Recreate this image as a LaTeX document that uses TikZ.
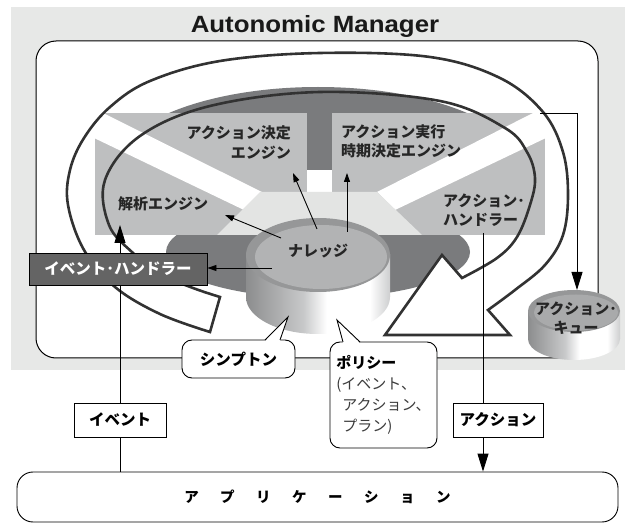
\documentclass[tikz,border=0pt]{standalone}
\usepackage{graphicx}
\usepackage{fontspec}
\setmainfont{Liberation Sans}
\newfontfamily\jp{Noto Sans CJK JP}
\usetikzlibrary{arrows.meta,calc}

\definecolor{bggray}{RGB}{231,232,231}
\definecolor{panelgray}{RGB}{190,191,192}
\definecolor{darkgray}{RGB}{122,123,125}
\definecolor{lightpanel}{RGB}{227,228,227}
\definecolor{ehgray}{RGB}{100,100,100}
\definecolor{ribbon}{RGB}{50,50,50}
\definecolor{cylrim}{RGB}{150,151,152}
\definecolor{cyltop}{RGB}{178,179,180}
\definecolor{cyldark}{RGB}{140,141,142}
\definecolor{cylmid}{RGB}{200,201,202}
\definecolor{cylend}{RGB}{205,206,207}
\definecolor{softtext}{RGB}{60,60,60}

% side wall of a drum: dark on the left, bright just right of centre
\pgfdeclarehorizontalshading{cylbody}{100bp}{color(0bp)=(cyldark); color(25bp)=(cyldark);
  color(45bp)=(cylmid); color(53bp)=(white); color(68bp)=(white);
  color(75bp)=(cylend); color(100bp)=(cylend)}

\begin{document}
\begin{tikzpicture}[x=1pt,y=-1pt,
  conn/.style={line width=0.9pt, draw=black},
  smallarrow/.style={conn, -{Triangle[length=9pt,width=6pt]}},
  bigarrow/.style={conn, -{Triangle[length=18pt,width=11pt]}},
  ribbonline/.style={line width=2.6pt, draw=ribbon, line join=miter},
  paneltext/.style={font=\jp\bfseries\fontsize{15}{19.5}\selectfont, inner sep=0pt, text=black!85},
  labelbox/.style={draw, fill=white, line width=0.9pt, inner sep=0pt,
    font=\jp\bfseries\fontsize{15.5}{18}\selectfont, minimum height=34pt},
  bubble/.style={draw, fill=white, line width=0.9pt, rounded corners=10pt, inner sep=0pt}]

\useasboundingbox (0,0) rectangle (625,524);

% grey panel of the manager
\fill[bggray] (11,7) rectangle (625,370);
\node[anchor=base, font=\bfseries\fontsize{23.5}{28}\selectfont, text=black!90] (title) at (315,33)
  {\scalebox{1.1}[1]{Autonomic Manager}};
\draw[fill=white, line width=1pt, rounded corners=20pt] (36,41) rectangle (598,358);

% dark discs behind the engines
\fill[darkgray] (318,170) ellipse [x radius=205pt, y radius=83pt];
\fill[darkgray] (318,252) ellipse [x radius=152pt, y radius=46pt];

% engine panels split by white spokes
\fill[panelgray] (95,113) rectangle (545,235);
\fill[white] (92,110) -- (101,112) -- (262,192) -- (244,210) -- (92,137) -- cycle;
\fill[white] (548,110) -- (535,112) -- (377,192) -- (395,210) -- (548,137) -- cycle;
\fill[darkgray] (307,113) rectangle (332,170);
\fill[white] (307,170) rectangle (332,192);
\fill[lightpanel] (260,192) -- (377,192) -- (422,235) -- (217,235) -- cycle;

% knowledge drum
\shade[shading=cylbody] (246,255) rectangle (390,297);
\shade[shading=cylbody] (318,297) ellipse [x radius=72pt, y radius=37pt];
\fill[cylrim] (318,255) ellipse [x radius=72pt, y radius=37pt];
\fill[cyltop] (321,257) ellipse [x radius=66pt, y radius=32pt];

% spiral ribbon with its arrow head
\fill[white] (442,255) -- (510,335) -- (385,335) -- cycle;
\draw[ribbonline] plot[smooth, tension=0.6] coordinates {
    (210,332) (160,314) (115,287) (84,250) (68,205) (70,170) (84,138) (110,107)
    (150,81) (220,61) (320,53) (430,57) (500,78) (543,112) (563,152) (568,195)
    (563,235) (545,265) (515,290) (488,310)}
  -- (510,335) -- (385,335) -- (442,255)
  -- plot[smooth, tension=0.6] coordinates {
    (462,278) (497,258) (517,237) (530,205) (535,178) (527,152) (505,128)
    (440,101) (320,92) (210,106) (140,136) (105,180) (109,225) (133,253)
    (160,274) (193,288) (220,297)}
  -- cycle;

% labels of the engines
\node[paneltext, align=right, anchor=east] (decide) at (291,142.5) {アクション決定\\エンジン};
\node[paneltext, align=left, anchor=west] (timing) at (341,141.5) {アクション実行\\時期決定エンジン};
\node[paneltext] (analysis) at (163,203.5) {解析エンジン};
\node[paneltext, align=left, anchor=west] (handler) at (443,210) {アクション･\\ハンドラー};
\node[paneltext] (know) at (318,251.5) {ナレッジ};

% knowledge feeds the engines
\coordinate (k1) at (281,238);
\coordinate (k2) at (317,229);
\coordinate (k3) at (347,232);
\coordinate (k4) at (272,268);
\coordinate (t1) at (225,215);
\coordinate (t2) at (293,173);
\coordinate (t3) at (347,173);
\draw[smallarrow] (k1) -- (t1);
\draw[smallarrow] (k2) -- (t2);
\draw[smallarrow] (k3) -- (t3);

% application at the bottom
\node[draw, line width=0.9pt, rounded corners=16pt, minimum width=601pt, minimum height=50pt,
  font=\jp\bfseries\fontsize{14.5}{17}\selectfont] (app) at (317.5,497)
  {ア\hspace{21.5pt}プ\hspace{21.5pt}リ\hspace{21.5pt}ケ\hspace{21.5pt}ー\hspace{21.5pt}シ\hspace{21.5pt}ョ\hspace{21.5pt}ン};

% event path
\node[labelbox, minimum width=92pt] (evlabel) at (120,420) {イベント};
\coordinate (evtip) at (120,225);
\draw[conn] (evlabel.south) -- (evlabel.south |- app.north);
\draw[conn] (evlabel.north) -- (evlabel.north |- 0,285);
\node[draw, line width=0.9pt, fill=ehgray, minimum width=178pt, minimum height=32pt, inner sep=0pt,
  text=white, font=\jp\bfseries\fontsize{15.5}{18}\selectfont] (eh) at (118,269) {イベント･ハンドラー};
\draw[bigarrow] (evlabel.north |- eh.north) -- (evtip);
\draw[smallarrow] (k4) -- (eh.east |- k4);

% action path
\coordinate (ahfoot) at (483,233);
\draw[bigarrow] (ahfoot) -- (ahfoot |- app.north);
\node[labelbox, minimum width=90pt] (aclabel) at (498,420) {アクション};

% action queue
\coordinate (qstart) at (540,113);
\coordinate (qtop) at (577,290);
\draw[bigarrow] (qstart) -- (qstart -| qtop) -- (qtop);
\shade[shading=cylbody] (528,311) rectangle (620,339);
\shade[shading=cylbody] (574,339) ellipse [x radius=46pt, y radius=21pt];
\fill[cylrim] (574,311) ellipse [x radius=46pt, y radius=21pt];
\fill[cyltop!95!black] (576,312.5) ellipse [x radius=42pt, y radius=18pt];
\node[align=center, inner sep=0pt, font=\jp\bfseries\fontsize{15}{19}\selectfont, text=black!85]
  (queue) at (576,318) {アクション･\\キュー};

% speech bubbles from the knowledge drum
\node[bubble, minimum width=113pt, minimum height=38pt, font=\jp\bfseries\fontsize{15.5}{18}\selectfont]
  (sym) at (238.5,359) {シンプトン};
\fill[white] (265,341.5) -- (288,317) -- (280,341.5) -- cycle;
\draw[conn, line join=miter] (265,340) -- (288,317) -- (280,340);

\node[bubble, minimum width=107pt, minimum height=106pt, align=left,
  font=\jp\fontsize{15}{21}\selectfont, text=softtext] (pol) at (383.5,395)
  {{\bfseries\color{black}ポリシー}\\(イベント、\\\hspace*{6pt}アクション、\\\hspace*{6pt}プラン)};
\fill[white] (343,343.5) -- (337,320) -- (360,343.5) -- cycle;
\draw[conn, line join=miter] (343,342) -- (337,320) -- (360,342);

\end{tikzpicture}
\end{document}
